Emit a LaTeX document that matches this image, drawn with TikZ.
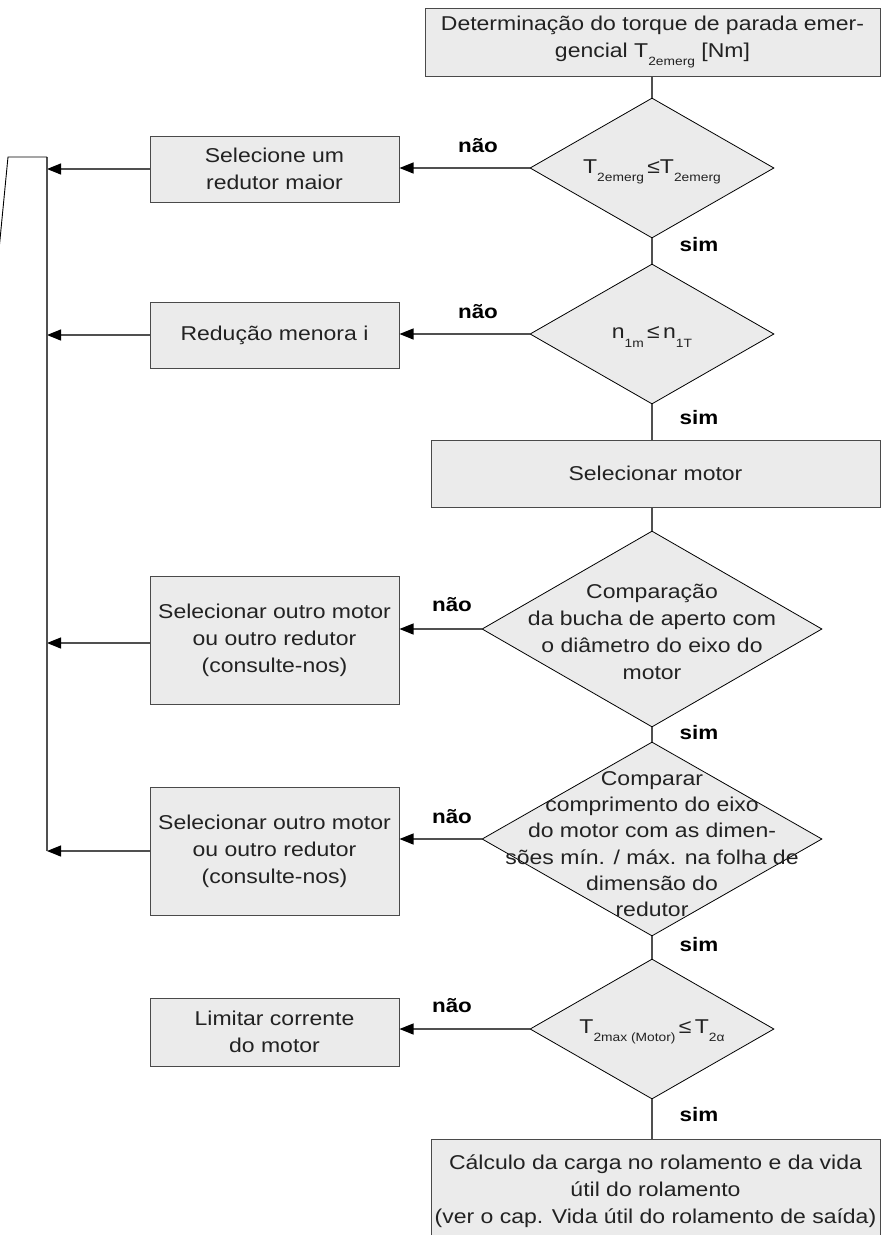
\documentclass[tikz,border=0pt]{standalone}
\usepackage{fontspec}
\setmainfont{Liberation Sans}[FakeStretch=1.15]
\usetikzlibrary{shapes.geometric,arrows.meta}
\definecolor{boxfill}{HTML}{EBEBEB}
\definecolor{boxline}{HTML}{4A4A4A}
\definecolor{connc}{HTML}{505050}
\definecolor{txt}{HTML}{222222}
\newcommand\sbx[1]{\raisebox{-0.42em}{\fontsize{12}{12}\selectfont #1}}
\begin{document}
\begin{tikzpicture}[x=1pt,y=-1pt,
  every node/.style={font=\fontsize{20}{27}\selectfont, text=txt},
  box/.style={draw=boxline, fill=boxfill, line width=1pt, inner sep=0pt, align=center},
  dia/.style={diamond, draw=black, fill=boxfill, line width=0.8pt, inner sep=0pt},
  dtext/.style={align=center, inner sep=0pt},
  lbl/.style={font=\fontsize{19.5}{22}\bfseries\selectfont, text=black},
  conn/.style={draw=connc, line width=1.2pt},
  arr/.style={conn, -{Triangle[length=14pt,width=11pt,color=black]}},
  thin/.style={draw=black, line width=0.9pt}]
\useasboundingbox (0,0) rectangle (881,1235);
\clip (0,0) rectangle (881,1235);

% boxes on the main column
\node[box, minimum width=455, minimum height=68] (top) at (652.5,42)
  {Determinação do torque de parada emer-\\gencial T\sbx{2emerg} [Nm]};
\node[box, minimum width=449, minimum height=67] (selm) at (655.5,473.5) {Selecionar motor};
\node[box, minimum width=449, minimum height=104] (bot) at (655.5,1191)
  {Cálculo da carga no rolamento e da vida\\útil do rolamento\\(ver o cap. Vida útil do rolamento de saída)};

% diamonds
\node[dia, minimum width=244, minimum height=140] (d1) at (652,168) {};
\node[dtext] (d1t) at (652,172) {T\sbx{2emerg}\,≤T\sbx{2emerg}};
\node[dia, minimum width=244, minimum height=140] (d2) at (652,334) {};
\node[dtext] (d2t) at (652,337) {n\sbx{1m}\,≤\,n\sbx{1T}};
\node[dia, minimum width=340, minimum height=196] (d3) at (652,629) {};
\node[dtext] (d3t) at (652,632) {Comparação\\da bucha de aperto com\\o diâmetro do eixo do\\motor};
\node[dia, minimum width=340, minimum height=194] (d4) at (652,839) {};
\node[dtext, font=\fontsize{20}{26.3}\selectfont] (d4t) at (652,844) {Comparar\\comprimento do eixo\\do motor com as dimen-\\sões mín. / máx. na folha de\\dimensão do\\redutor};
\node[dia, minimum width=244, minimum height=140] (d5) at (652,1029) {};
\node[dtext] (d5t) at (652,1032) {T\sbx{2max (Motor)}\,≤\,T\sbx{2α}};

% side boxes
\node[box, minimum width=249, minimum height=66] (b1) at (274.5,169) {Selecione um\\redutor maior};
\node[box, minimum width=249, minimum height=66] (b2) at (274.5,335) {Redução menora i};
\node[box, minimum width=249, minimum height=128] (b3) at (274.5,640) {Selecionar outro motor\\ou outro redutor\\(consulte-nos)};
\node[box, minimum width=249, minimum height=128] (b4) at (274.5,851) {Selecionar outro motor\\ou outro redutor\\(consulte-nos)};
\node[box, minimum width=249, minimum height=68] (b5) at (274.5,1032) {Limitar corrente\\do motor};

% feedback trunk
\coordinate (ttop) at (47,157);
\coordinate (tbot) at (47,851);
\coordinate (tcorner) at (8,157);
\coordinate (tout) at (-1.5,255);

% main column connectors
\draw[conn] (d1.north |- top.south) -- (d1.north);
\draw[conn] (d1.south) -- (d2.north);
\draw[conn] (d2.south) -- (d2.south |- selm.north);
\draw[conn] (d3.north |- selm.south) -- (d3.north);
\draw[conn] (d3.south) -- (d4.north);
\draw[conn] (d4.south) -- (d5.north);
\draw[conn] (d5.south) -- (d5.south |- bot.north);

% "no" branches
\draw[arr] (d1.west) -- (d1.west -| b1.east);
\draw[arr] (d2.west) -- (d2.west -| b2.east);
\draw[arr] (d3.west) -- (d3.west -| b3.east);
\draw[arr] (d4.west) -- (d4.west -| b4.east);
\draw[arr] (d5.west) -- (d5.west -| b5.east);

% back to trunk
\draw[arr] (b1.west) -- (b1.west -| ttop);
\draw[arr] (b2.west) -- (b2.west -| ttop);
\draw[arr] ([yshift=-3pt]b3.west) -- ([yshift=-3pt]b3.west -| ttop);
\draw[arr] (b4.west) -- (b4.west -| ttop);
\draw[conn] (tbot) -- (ttop);
\draw[thin] (ttop) -- (tcorner) -- (tout);

% labels
\node[lbl] (n1) at (478,146) {não};
\node[lbl] (n2) at (478,312) {não};
\node[lbl] (n3) at (452,605) {não};
\node[lbl] (n4) at (452,817) {não};
\node[lbl] (n5) at (452,1006) {não};
\node[lbl] (s1) at (699,245) {sim};
\node[lbl] (s2) at (699,418) {sim};
\node[lbl] (s3) at (699,733) {sim};
\node[lbl] (s4) at (699,945) {sim};
\node[lbl] (s5) at (699,1115) {sim};
\end{tikzpicture}
\end{document}
